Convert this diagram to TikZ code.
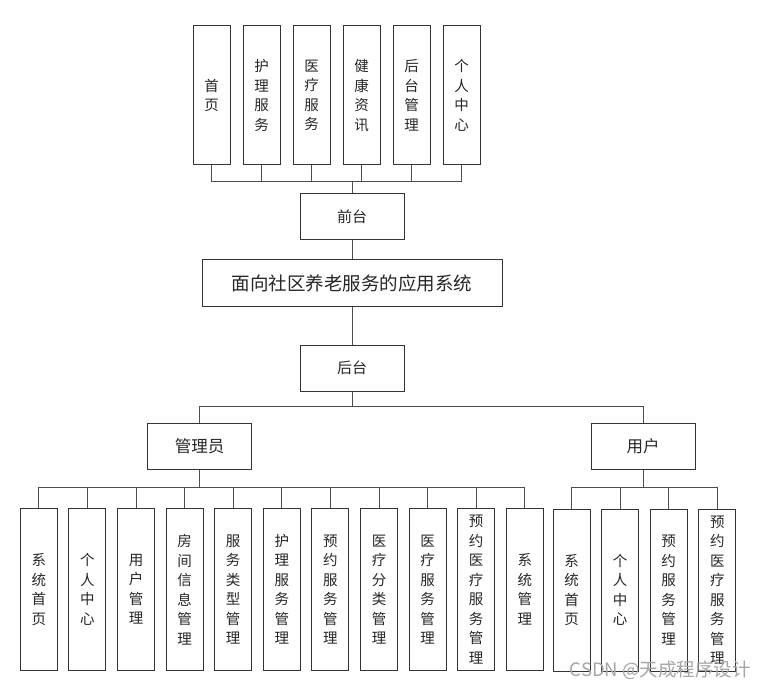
\documentclass[tikz,border=0pt]{standalone}
\usepackage{fontspec}
\setmainfont{Noto Sans CJK SC}
\tikzset{
  box/.style={draw=black!80, line width=1pt, fill=white, inner sep=0pt, align=center, text=black!85},
  vbox/.style={box, minimum width=37pt, font=\fontsize{14.5}{19.5}\selectfont},
  topbox/.style={vbox, minimum height=139pt},
  botbox/.style={vbox, minimum height=162pt},
  midbox/.style={box, minimum width=104pt, minimum height=46pt},
  link/.style={draw=black!70, line width=1pt},
}
\begin{document}
\begin{tikzpicture}[x=1pt,y=-1pt]
\useasboundingbox (0,0) rectangle (764,690);
% top boxes
\foreach \t [count=\i from 0] in {首\\页,护\\理\\服\\务,医\\疗\\服\\务,健\\康\\资\\讯,后\\台\\管\\理,个\\人\\中\\心}{
  \node[topbox] (t\i) at (211.7+50*\i,95.4) {\t};
}
\node[midbox, font=\fontsize{15}{18}\selectfont] (qt) at (352,217) {前台};
\node[box, minimum width=300pt, minimum height=46pt, font=\fontsize{18.5}{22}\selectfont] (sys) at (352,283) {面向社区养老服务的应用系统};
\node[midbox, font=\fontsize{15}{18}\selectfont] (ht) at (352,368) {后台};
\node[midbox, font=\fontsize{16.5}{20}\selectfont] (adm) at (199.7,446.3) {管理员};
\node[midbox, font=\fontsize{16.5}{20}\selectfont] (usr) at (643.2,446.3) {用户};
% admin boxes
\foreach \t [count=\i from 0] in {系\\统\\首\\页,个\\人\\中\\心,用\\户\\管\\理,房\\间\\信\\息\\管\\理,服\\务\\类\\型\\管\\理,护\\理\\服\\务\\管\\理,预\\约\\服\\务\\管\\理,医\\疗\\分\\类\\管\\理,医\\疗\\服\\务\\管\\理,预\\约\\医\\疗\\服\\务\\管\\理,系\\统\\管\\理}{
  \node[botbox] (a\i) at (38.8+48.6*\i,589.5) {\t};
}
% user boxes
\foreach \t [count=\i from 0] in {系\\统\\首\\页,个\\人\\中\\心,预\\约\\服\\务\\管\\理,预\\约\\医\\疗\\服\\务\\管\\理}{
  \node[botbox] (u\i) at (571.5+48.6*\i,590) {\t};
}
% connectors
\foreach \i in {0,...,5}{
  \draw[link] (qt.north) -- ++(0,-11.7) -| (t\i.south);
}
\draw[link] (qt.south) -- (sys.north);
\draw[link] (sys.south) -- (ht.north);
\draw[link] (ht.south) -- ++(0,14.7) -| (adm.north);
\draw[link] (ht.south) -- ++(0,14.7) -| (usr.north);
\foreach \i in {0,...,10}{
  \draw[link] (adm.south) -- ++(0,17.4) -| (a\i.north);
}
\foreach \i in {0,...,3}{
  \draw[link] (usr.south) -- ++(0,17.4) -| (u\i.north);
}
\node[text=black!35, font=\fontsize{18.5}{20}\selectfont, anchor=east, inner sep=0pt] (wm) at (751,670) {CSDN @天成程序设计};
\end{tikzpicture}
\end{document}
